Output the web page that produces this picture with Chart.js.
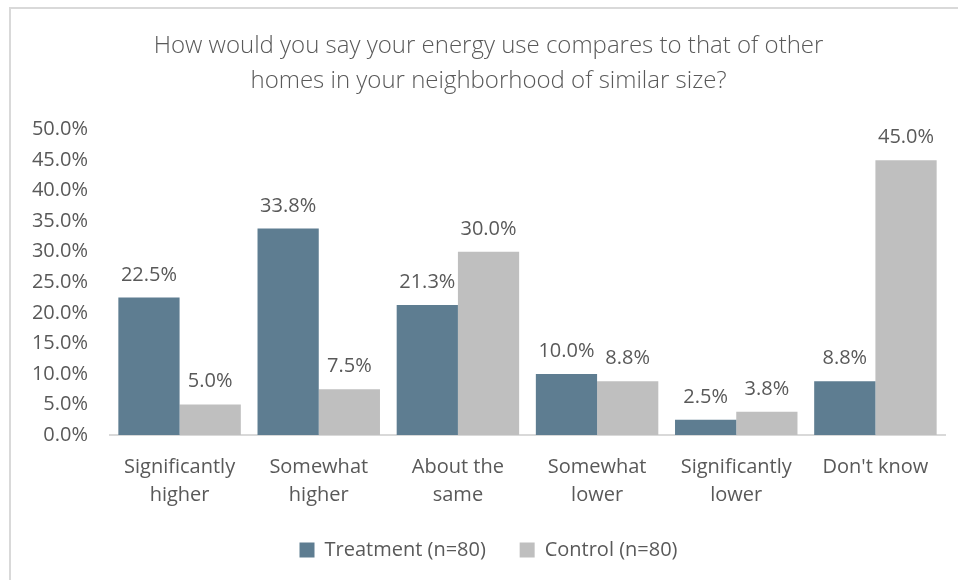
<!DOCTYPE html>
<html>
<head>
<meta charset="utf-8">
<script src="https://cdn.jsdelivr.net/npm/chart.js@4"></script>
<style>
  html,body{margin:0;padding:0;background:#fff;}
  #wrap{position:relative;width:958px;height:580px;overflow:hidden;}
  #frame{position:absolute;left:9px;top:7px;width:960px;height:600px;border:2px solid #d9d9d9;box-sizing:border-box;}
  canvas{position:absolute;left:0;top:0;}
</style>
</head>
<body>
<div id="wrap">
  <div id="frame"></div>
  <canvas id="c" width="958" height="580"></canvas>
</div>
<script>
// ===== data =====
const categories = [
  ['Significantly','higher'],
  ['Somewhat','higher'],
  ['About the','same'],
  ['Somewhat','lower'],
  ['Significantly','lower'],
  ["Don't know"]
];
const treatment = [22.5, 33.8, 21.3, 10.0, 2.5, 8.8];
const control   = [5.0, 7.5, 30.0, 8.8, 3.8, 45.0];
const seriesNames = ['Treatment (n=80)', 'Control (n=80)'];
const titleLines = ['How would you say your energy use compares to that of other', 'homes in your neighborhood of similar size?'];

const FONT = "'Open Sans', 'Noto Sans', sans-serif";
const TXT = '#595959';

// 막대 위 값 표시
const valueLabels = {
  id: 'valueLabels',
  afterDatasetsDraw(chart){
    const ctx = chart.ctx;
    ctx.save();
    ctx.font = '20px ' + FONT;
    ctx.fillStyle = TXT;
    ctx.textAlign = 'center';
    ctx.textBaseline = 'alphabetic';
    chart.data.datasets.forEach((ds, i) => {
      chart.getDatasetMeta(i).data.forEach((bar, j) => {
        ctx.fillText(ds.data[j].toFixed(1) + '%', bar.x, bar.y - 17);
      });
    });
    ctx.restore();
  }
};

new Chart(document.getElementById('c'), {
  type: 'bar',
  data: {
    labels: categories,
    datasets: [
      { label: seriesNames[0] + '    ', data: treatment, backgroundColor: '#5e7d91' },
      { label: seriesNames[1], data: control, backgroundColor: '#bfbfbf' }
    ]
  },
  options: {
    responsive: false,
    animation: false,
    layout: { padding: { left: 32, right: 13, top: 29, bottom: 10 } },
    datasets: { bar: { categoryPercentage: 0.88, barPercentage: 1.0 } },
    plugins: {
      title: {
        display: true,
        text: titleLines,
        color: TXT,
        font: { family: FONT, size: 24, weight: '300', lineHeight: 1.45 },
        padding: { top: 0, bottom: 31 }
      },
      legend: {
        position: 'bottom',
        labels: {
          color: TXT,
          font: { family: FONT, size: 20 },
          boxWidth: 15, boxHeight: 15,
          padding: 13
        }
      },
      tooltip: { enabled: false }
    },
    scales: {
      x: {
        grid: { display: false, drawTicks: false },
        border: { display: true, color: '#d9d9d9', width: 2 },
        ticks: { color: TXT, font: { family: FONT, size: 20, lineHeight: 1.4 }, padding: 18, maxRotation: 0 }
      },
      y: {
        min: 0, max: 50,
        grid: { display: false, drawTicks: false },
        border: { display: false },
        ticks: {
          stepSize: 5,
          color: TXT,
          font: { family: FONT, size: 20 },
          padding: 22,
          callback: v => v.toFixed(1) + '%'
        },
        afterFit: s => { s.width = 78; }
      }
    }
  },
  plugins: [valueLabels]
});
</script>
</body>
</html>
